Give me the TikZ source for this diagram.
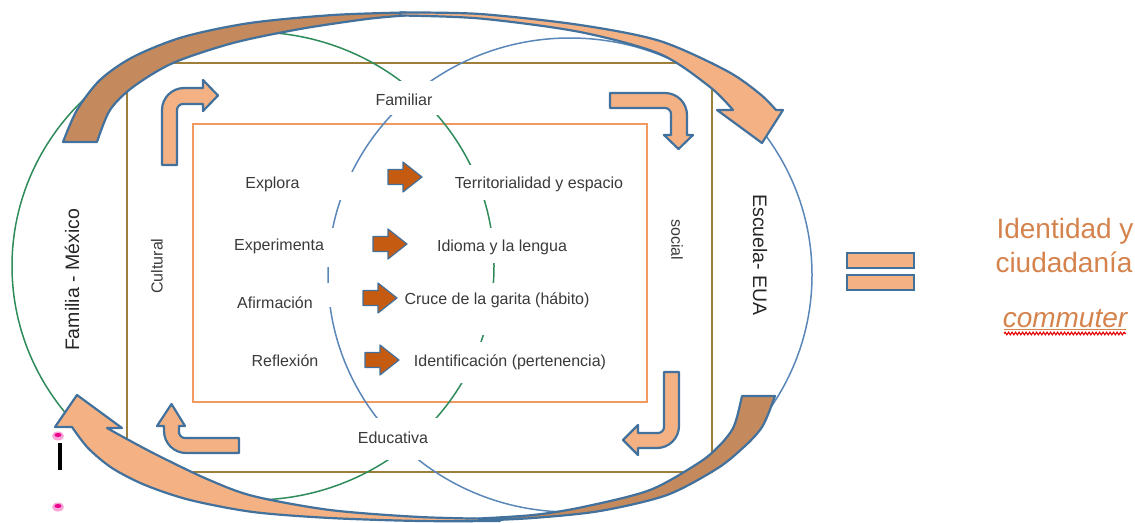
\documentclass[tikz,border=0pt]{standalone}
\usepackage{fontspec}
\setmainfont{Liberation Sans}
\usetikzlibrary{decorations.pathmorphing}
\definecolor{frameol}{HTML}{9E7E38}
\definecolor{innerorg}{HTML}{F09A62}
\definecolor{elgreen}{HTML}{2E8B5A}
\definecolor{elblue}{HTML}{5A87B8}
\definecolor{arrline}{HTML}{41719C}
\definecolor{arrlight}{HTML}{F4B183}
\definecolor{arrdark}{HTML}{C48A5E}
\definecolor{rust}{HTML}{C55A11}
\definecolor{txtgray}{HTML}{3A3A3A}
\definecolor{idorange}{HTML}{D5834D}
\begin{document}
\begin{tikzpicture}[x=1pt,y=-1pt,
  lbl/.style={font=\fontsize{16}{19}\selectfont, text=txtgray, inner sep=0pt, anchor=base},
  sidelbl/.style={font=\fontsize{19.5}{23}\selectfont, text=black!85, inner sep=0pt},
  idlbl/.style={font=\fontsize{28}{33}\selectfont, text=idorange, inner sep=0pt, anchor=base},
  bentarrow/.style={fill=arrlight, draw=arrline, line width=2.2pt, line join=round},
  bigfront/.style={fill=arrlight, draw=arrline, line width=2.2pt, line join=round},
  bigback/.style={fill=arrdark, draw=arrline, line width=2.2pt, line join=round},
  darrow/.pic={\filldraw[fill=rust, draw=arrline, line width=1.2pt, line join=round]
     (-15,-7.5) -- (0,-7.5) -- (0,-15) -- (19,0) -- (0,15) -- (0,7.5) -- (-15,7.5) -- cycle;}
]
\useasboundingbox (0,0) rectangle (1135,522);

% frames
\draw[frameol, line width=2pt] (127,63) rectangle (712,472);
\draw[innerorg, line width=2pt] (193,124) rectangle (647,402);

% the two overlapping spheres
\draw[elgreen, line width=1.5pt] (253,266) ellipse [x radius=241pt, y radius=234pt];
\draw[elblue, line width=1.5pt] (570,275) ellipse [x radius=242pt, y radius=237pt];

% white text-box backgrounds over the ellipse lines
\fill[white] (360,81) rectangle (450,115);
\fill[white] (445,165) rectangle (632,200);
\fill[white] (430,228) rectangle (575,263);
\fill[white] (399,283) rectangle (598,335);
\fill[white] (405,342) rectangle (614,383);
\fill[white] (350,418) rectangle (445,460);
\fill[white] (235,172) rectangle (358,200);
\fill[white] (235,228) rectangle (345,267);
\fill[white] (235,283) rectangle (345,307);

% labels
\node[lbl] (familiar) at (404,105) {Familiar};
\node[lbl] (educativa) at (393,443) {Educativa};
\node[lbl, anchor=center, rotate=90] (cultural) at (157,266) {Cultural};
\node[lbl, anchor=center, rotate=-90] (social) at (677,240) {social};
\node[sidelbl, rotate=90] (familia) at (72,280) {Familia - México};
\node[sidelbl, rotate=-90] (escuela) at (760,255) {Escuela- EUA};

\node[lbl] (explora) at (272.5,188) {Explora};
\node[lbl] (experimenta) at (279,250) {Experimenta};
\node[lbl] (afirmacion) at (275,308) {Afirmación};
\node[lbl] (reflexion) at (285,366) {Reflexión};

\node[lbl] (territorio) at (539,188) {Territorialidad y espacio};
\node[lbl] (idioma) at (502,251) {Idioma y la lengua};
\node[lbl] (cruce) at (497,304) {Cruce de la garita (hábito)};
\node[lbl] (identif) at (510,366) {Identificación (pertenencia)};

% small arrows between the columns
\pic at (403,177) {darrow};
\pic at (388,244) {darrow};
\pic at (378,298) {darrow};
\pic at (380,360) {darrow};

% bent arrows in the corners
\draw[bentarrow] (162,165) -- (162,110) .. controls (162,97.9) and (171.9,88) .. (184,88)
  -- (203,88) -- (203,80) -- (218,95.5) -- (203,111) -- (203,104) -- (183,104)
  .. controls (179.7,104) and (177,106.7) .. (177,110) -- (177,165) -- cycle;
\draw[bentarrow] (610,93) -- (665,93) .. controls (677.1,93) and (687,102.9) .. (687,115)
  -- (687,135) -- (693,135) -- (678.5,149) -- (664,135) -- (671,135) -- (671,114)
  .. controls (671,110.7) and (668.3,108) .. (665,108) -- (610,108) -- cycle;
\draw[bentarrow] (664,372) -- (679,372) -- (679,426) .. controls (679,438.1) and (669.1,448) .. (657,448)
  -- (638,448) -- (638,455) -- (623,440) -- (638,425) -- (638,433) -- (658,433)
  .. controls (661.3,433) and (664,430.3) .. (664,427) -- cycle;
\draw[bentarrow] (239,438) -- (185,438) .. controls (181.7,438) and (179,435.3) .. (179,432)
  -- (179,426) -- (185,426) -- (171.5,404) -- (157,426) -- (164,426) -- (164,431)
  .. controls (164,443.1) and (173.9,453) .. (186,453) -- (239,453) -- cycle;

% large curved arrow over the top (back face, then front face)
\draw[bigback] plot[smooth] coordinates {(63,142) (77,110) (100,80) (133,57) (183,37) (250,23) (333,15) (405,12.5)}
  -- plot[smooth] coordinates {(405,15.5) (367,19) (300,29) (233,43) (173,63) (133,87) (110,110) (97,142)} -- cycle;
\draw[bigfront] plot[smooth] coordinates {(400,12.5) (480,14) (580,25) (660,41) (727,71) (760,94) (776,110)}
  -- (783,110) -- (762,143) -- (717,110) -- (733,110)
  -- plot[smooth] coordinates {(733,110) (710,87) (660,54) (580,32) (480,18.5) (400,15.5)} -- cycle;

% large curved arrow along the bottom
\draw[bigback] plot[smooth] coordinates {(775,396) (767,417) (760,430) (745,446) (718,468) (667,495) (600,511) (533,518) (470,521)}
  -- plot[smooth] coordinates {(470,519) (533,515) (583,507) (650,490) (700,462) (720,445) (732,430) (737,417) (742,396)} -- cycle;
\draw[bigfront] plot[smooth] coordinates {(500,521) (420,521) (330,518) (253,512) (190,500) (145,485) (112,468) (88,448) (72,427)}
  -- (55,427) -- (77,395) -- (122,428) -- (107,428)
  -- plot[smooth] coordinates {(107,428) (125,438) (157,455) (207,479) (253,496) (330,510) (420,517) (500,519)} -- cycle;

% equals sign
\draw[fill=arrlight, draw=arrline, line width=2pt] (847,253) rectangle (914,268);
\draw[fill=arrlight, draw=arrline, line width=2pt] (847,275) rectangle (914,290);

% result text
\node[idlbl] (identidad) at (1065,238) {Identidad y};
\node[idlbl] (ciudadania) at (1064,272) {ciudadanía};
\node[idlbl, font=\fontsize{28}{33}\selectfont\itshape] (commuter) at (1065,327) {commuter};
\draw[idorange, line width=1pt] (1004,329.5) -- (1126,329.5);
\draw[red!90!black, line width=1.1pt, decorate, decoration={snake, amplitude=1.3pt, segment length=3.5pt}] (1004,333.5) -- (1126,333.5);

% small marks at the lower left
\fill[magenta!35] (58,436) ellipse [x radius=6pt, y radius=4.5pt];
\fill[magenta] (58,435) ellipse [x radius=3.5pt, y radius=2pt];
\fill[black] (57.5,443) rectangle (61.5,470);
\fill[magenta!35] (58,507) ellipse [x radius=6pt, y radius=4.5pt];
\fill[magenta] (58,506) ellipse [x radius=3.5pt, y radius=2pt];
\end{tikzpicture}
\end{document}
